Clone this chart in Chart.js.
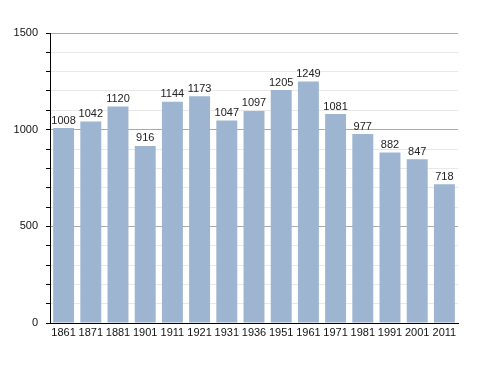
<!DOCTYPE html>
<html>
<head>
<meta charset="utf-8">
<script src="https://cdn.jsdelivr.net/npm/chart.js@4"></script>
<style>
  html, body { margin: 0; padding: 0; background: #fff; }
  #wrap { width: 488px; height: 373px; }
</style>
</head>
<body>
<div id="wrap"><canvas id="barChart" width="488" height="373"></canvas></div>
<script>
'use strict';
// årtal och invånare
const years = ['1861', '1871', '1881', '1901', '1911', '1921', '1931', '1936', '1951', '1961', '1971', '1981', '1991', '2001', '2011'];
const population = [1008, 1042, 1120, 916, 1144, 1173, 1047, 1097, 1205, 1249, 1081, 977, 882, 847, 718];
const yLabels = [0, 500, 1000, 1500];

// skriver värdet ovanför varje stapel
const valueLabels = {
    id: 'valueLabels',
    afterDatasetsDraw(chart) {
        const ctx = chart.ctx;
        const meta = chart.getDatasetMeta(0);
        ctx.save();
        ctx.font = '11px "Liberation Sans", Arial, sans-serif';
        ctx.fillStyle = '#222';
        ctx.textAlign = 'center';
        ctx.textBaseline = 'bottom';
        meta.data.forEach((bar, i) => {
            ctx.fillText(population[i], bar.x, bar.y - 2);
        });
        ctx.restore();
    }
};

function renderChart() {
    const ctx = document.getElementById('barChart').getContext('2d');
    new Chart(ctx, {
        type: 'bar',
        data: {
            labels: years,
            datasets: [{
                data: population,
                backgroundColor: '#9db5d1',
                borderWidth: 0,
                barPercentage: 0.77,
                categoryPercentage: 1
            }]
        },
        options: {
            responsive: false,
            animation: false,
            layout: { padding: { top: 33, right: 30, bottom: 30, left: 0 } },
            plugins: {
                legend: { display: false },
                tooltip: { enabled: false }
            },
            scales: {
                x: {
                    grid: { display: false, tickLength: 0 },
                    border: { color: '#000', width: 1 },
                    ticks: {
                        color: '#111',
                        padding: 3,
                        maxRotation: 0,
                        autoSkip: false,
                        font: { family: '"Liberation Sans", Arial, sans-serif', size: 11 }
                    },
                    afterFit(scale) { scale.height = 20; }
                },
                y: {
                    min: 0,
                    max: 1500,
                    border: { color: '#000', width: 1 },
                    grid: {
                        color: c => (c.tick && c.tick.value % 500 === 0) ? '#aaa' : '#e8e8e8',
                        tickColor: '#000',
                        tickLength: 4,
                        drawOnChartArea: true
                    },
                    ticks: {
                        stepSize: 100,
                        color: '#111',
                        padding: 8,
                        font: { family: '"Liberation Sans", Arial, sans-serif', size: 11 },
                        callback: v => yLabels.includes(v) ? v : ''
                    },
                    afterFit(scale) { scale.width = 50; }
                }
            }
        },
        plugins: [valueLabels]
    });
}

renderChart();
</script>
</body>
</html>
